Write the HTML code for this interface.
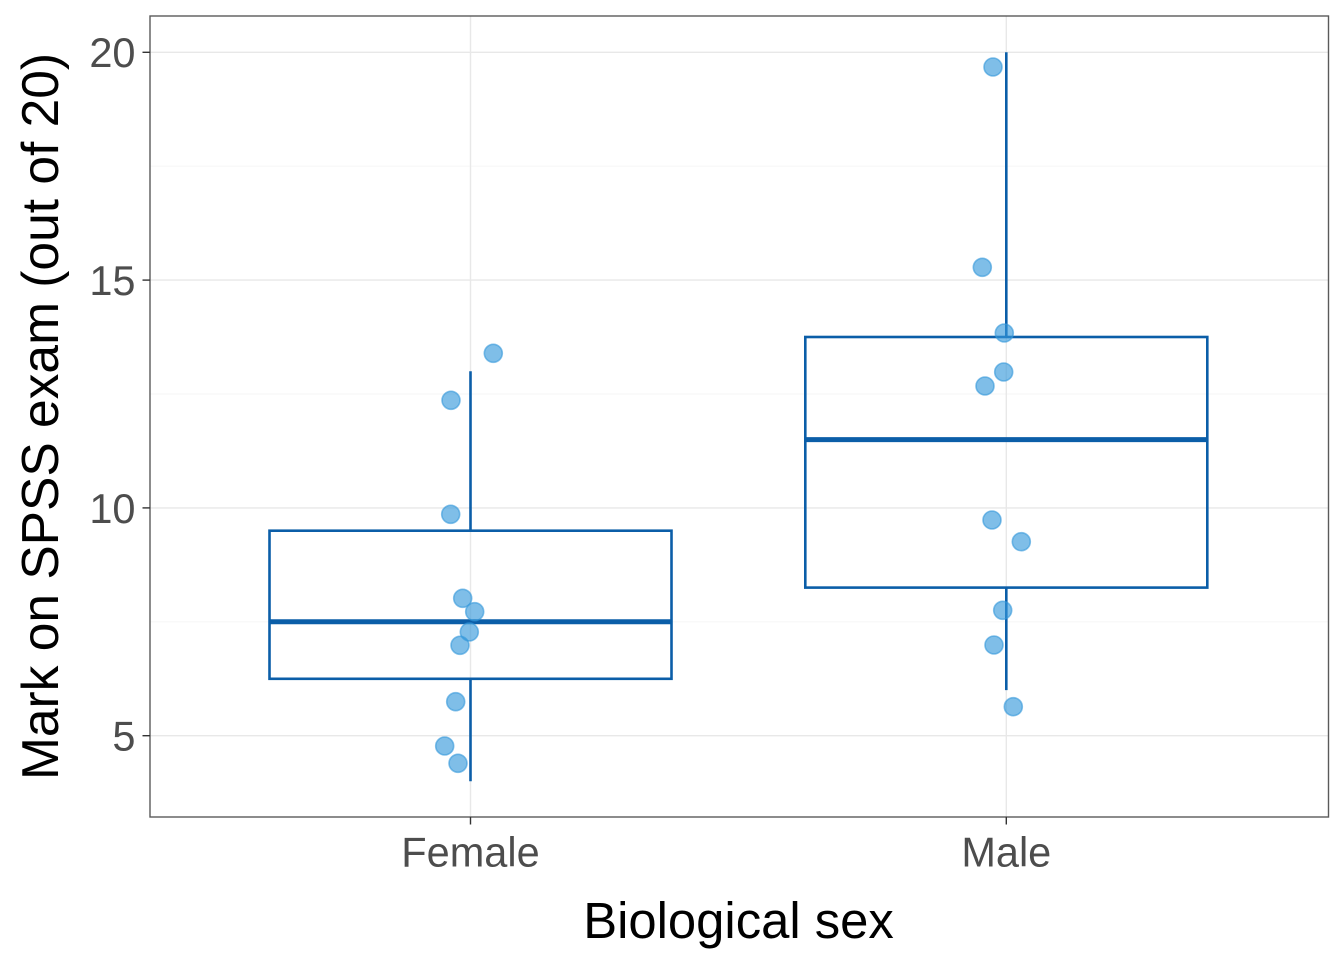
<!DOCTYPE html>
<html>
<head>
<meta charset="utf-8">
<style>
  html, body { margin: 0; padding: 0; background: #ffffff; }
  svg { display: block; }
  text { font-family: "Liberation Sans", Arial, sans-serif; }
</style>
</head>
<body>
<svg width="1344" height="960" viewBox="0 0 1344 960" xmlns="http://www.w3.org/2000/svg">
  <rect x="0" y="0" width="1344" height="960" fill="#ffffff"/>

  <!-- panel background -->
  <rect x="150" y="16" width="1178.5" height="801" fill="#ffffff"/>

  <!-- minor gridlines -->
  <g stroke="#f5f5f5" stroke-width="0.9" fill="none">
    <line x1="150" y1="621.8" x2="1328.5" y2="621.8"/>
    <line x1="150" y1="394.0" x2="1328.5" y2="394.0"/>
    <line x1="150" y1="166.2" x2="1328.5" y2="166.2"/>
  </g>
  <!-- major gridlines -->
  <g stroke="#e8e8e8" stroke-width="1.4" fill="none">
    <line x1="150" y1="735.7" x2="1328.5" y2="735.7"/>
    <line x1="150" y1="507.9" x2="1328.5" y2="507.9"/>
    <line x1="150" y1="280.1" x2="1328.5" y2="280.1"/>
    <line x1="150" y1="52.3" x2="1328.5" y2="52.3"/>
    <line x1="470.5" y1="16" x2="470.5" y2="817"/>
    <line x1="1006.3" y1="16" x2="1006.3" y2="817"/>
  </g>

  <!-- boxplots -->
  <g stroke="#0b5ea8" fill="none" stroke-width="2.6">
    <!-- Female -->
    <line x1="470.5" y1="371.2" x2="470.5" y2="530.7"/>
    <line x1="470.5" y1="678.8" x2="470.5" y2="781.3"/>
    <rect x="269.5" y="530.7" width="402" height="148.1" fill="#ffffff" fill-opacity="0"/>
    <line x1="269.5" y1="621.8" x2="671.5" y2="621.8" stroke-width="5"/>
    <!-- Male -->
    <line x1="1006.3" y1="52.3" x2="1006.3" y2="337.0"/>
    <line x1="1006.3" y1="587.6" x2="1006.3" y2="690.1"/>
    <rect x="805.3" y="337.0" width="402" height="250.6" fill="#ffffff" fill-opacity="0"/>
    <line x1="805.3" y1="439.6" x2="1207.3" y2="439.6" stroke-width="5"/>
  </g>

  <!-- jittered points -->
  <g fill="#3498db" fill-opacity="0.63" stroke="#3498db" stroke-opacity="0.6" stroke-width="1.6">
    <circle cx="493.3" cy="353.3" r="9"/>
    <circle cx="451.0" cy="400.3" r="9"/>
    <circle cx="450.7" cy="514.3" r="9"/>
    <circle cx="462.7" cy="598.3" r="9"/>
    <circle cx="474.7" cy="611.7" r="9"/>
    <circle cx="469.3" cy="632.0" r="9"/>
    <circle cx="460.0" cy="645.3" r="9"/>
    <circle cx="455.7" cy="701.7" r="9"/>
    <circle cx="444.7" cy="746.0" r="9"/>
    <circle cx="458.0" cy="763.3" r="9"/>

    <circle cx="993.0" cy="67.0" r="9"/>
    <circle cx="982.3" cy="267.3" r="9"/>
    <circle cx="1004.3" cy="333.0" r="9"/>
    <circle cx="1003.7" cy="372.0" r="9"/>
    <circle cx="985.0" cy="386.0" r="9"/>
    <circle cx="992.0" cy="520.0" r="9"/>
    <circle cx="1021.3" cy="541.7" r="9"/>
    <circle cx="1002.7" cy="610.3" r="9"/>
    <circle cx="994.0" cy="645.0" r="9"/>
    <circle cx="1013.3" cy="706.7" r="9"/>
  </g>

  <!-- panel border -->
  <rect x="150" y="16" width="1178.5" height="801" fill="none" stroke="#5a5a5a" stroke-width="1.4"/>

  <!-- ticks -->
  <g stroke="#333333" stroke-width="1.4">
    <line x1="142.5" y1="735.7" x2="150" y2="735.7"/>
    <line x1="142.5" y1="507.9" x2="150" y2="507.9"/>
    <line x1="142.5" y1="280.1" x2="150" y2="280.1"/>
    <line x1="142.5" y1="52.3" x2="150" y2="52.3"/>
    <line x1="470.5" y1="817" x2="470.5" y2="824.5"/>
    <line x1="1006.3" y1="817" x2="1006.3" y2="824.5"/>
  </g>

  <!-- y tick labels -->
  <g fill="#4d4d4d" font-size="41.5" text-anchor="end">
    <text x="135.5" y="750.6">5</text>
    <text x="135.5" y="522.8">10</text>
    <text x="135.5" y="295.0">15</text>
    <text x="135.5" y="67.2">20</text>
  </g>

  <!-- x tick labels -->
  <g fill="#4d4d4d" font-size="41.5" text-anchor="middle">
    <text x="470.5" y="866.5">Female</text>
    <text x="1006.3" y="866.5">Male</text>
  </g>

  <!-- axis titles -->
  <text x="738.5" y="938" font-size="50.8" fill="#000000" text-anchor="middle">Biological sex</text>
  <text transform="translate(58,416.5) rotate(-90)" x="0" y="0" font-size="51.5" fill="#000000" text-anchor="middle">Mark on SPSS exam (out of 20)</text>
</svg>
</body>
</html>
